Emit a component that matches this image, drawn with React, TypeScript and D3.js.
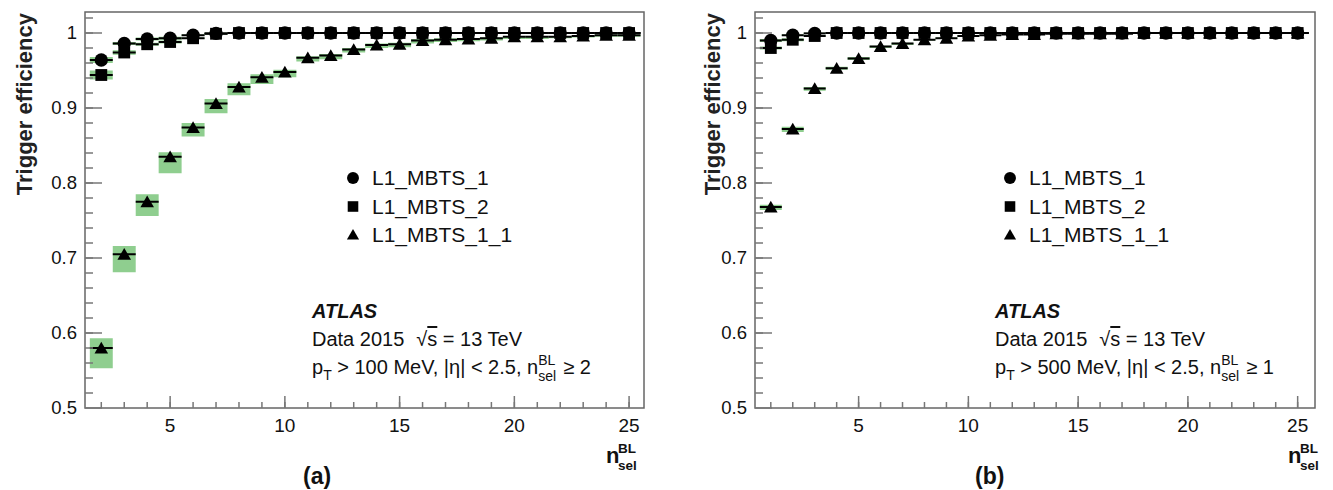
import React from "react";
import * as d3 from "d3";

// ---------------- DATA ----------------
// Panel (a): p_T > 100 MeV, n_sel >= 2
const nselA = [2, 3, 4, 5, 6, 7, 8, 9, 10, 11, 12, 13, 14, 15, 16, 17, 18, 19, 20, 21, 22, 23, 24, 25];
const mbts1A = [0.964, 0.986, 0.992, 0.993, 0.997, 0.9995, 1, 1, 1, 1, 1, 1, 1, 1, 1, 1, 1, 1, 1, 1, 1, 1, 1, 1];
const mbts1ErrA = [0.004, 0.002, 0.002, 0.002, 0.001, 0.001, 0, 0, 0, 0, 0, 0, 0, 0, 0, 0, 0, 0, 0, 0, 0, 0, 0, 0];
const mbts2A = [0.944, 0.974, 0.985, 0.988, 0.993, 0.999, 1, 1, 1, 1, 1, 1, 1, 1, 1, 1, 1, 1, 1, 1, 1, 1, 1, 1];
const mbts2ErrA = [0.006, 0.003, 0.002, 0.002, 0.001, 0.001, 0, 0, 0, 0, 0, 0, 0, 0, 0, 0, 0, 0, 0, 0, 0, 0, 0, 0];
const mbts11A = [0.580, 0.705, 0.775, 0.835, 0.874, 0.906, 0.928, 0.941, 0.948, 0.967, 0.970, 0.978, 0.984, 0.985, 0.990, 0.991, 0.992, 0.993, 0.995, 0.995, 0.995, 0.996, 0.997, 0.997];
const mbts11UpA = [0.013, 0.011, 0.010, 0.006, 0.006, 0.006, 0.005, 0.004, 0.003, 0.002, 0.002, 0.002, 0.002, 0.002, 0.002, 0.002, 0.001, 0.001, 0.001, 0.001, 0.001, 0.001, 0.001, 0.001];
const mbts11DnA = [0.027, 0.024, 0.019, 0.022, 0.012, 0.013, 0.011, 0.009, 0.007, 0.005, 0.005, 0.004, 0.004, 0.004, 0.004, 0.003, 0.003, 0.003, 0.003, 0.003, 0.002, 0.002, 0.002, 0.002];

// Panel (b): p_T > 500 MeV, n_sel >= 1
const nselB = [1, 2, 3, 4, 5, 6, 7, 8, 9, 10, 11, 12, 13, 14, 15, 16, 17, 18, 19, 20, 21, 22, 23, 24, 25];
const mbts1B = [0.990, 0.997, 0.9995, 1, 1, 1, 1, 1, 1, 1, 1, 1, 1, 1, 1, 1, 1, 1, 1, 1, 1, 1, 1, 1, 1];
const mbts1ErrB = [0.002, 0.001, 0.001, 0, 0, 0, 0, 0, 0, 0, 0, 0, 0, 0, 0, 0, 0, 0, 0, 0, 0, 0, 0, 0, 0];
const mbts2B = [0.980, 0.991, 0.996, 1, 1, 1, 1, 1, 1, 1, 1, 1, 1, 1, 1, 1, 1, 1, 1, 1, 1, 1, 1, 1, 1];
const mbts2ErrB = [0.002, 0.002, 0.001, 0, 0, 0, 0, 0, 0, 0, 0, 0, 0, 0, 0, 0, 0, 0, 0, 0, 0, 0, 0, 0, 0];
const mbts11B = [0.768, 0.872, 0.926, 0.953, 0.966, 0.982, 0.986, 0.991, 0.993, 0.996, 0.997, 0.998, 0.998, 0.999, 0.999, 0.999, 0.999, 1, 1, 1, 1, 1, 1, 1, 1];
const mbts11UpB = [0.003, 0.003, 0.002, 0.002, 0.002, 0.001, 0.001, 0.001, 0.001, 0.001, 0, 0, 0, 0, 0, 0, 0, 0, 0, 0, 0, 0, 0, 0, 0];
const mbts11DnB = [0.004, 0.004, 0.003, 0.002, 0.002, 0.002, 0.002, 0.001, 0.001, 0.001, 0.001, 0, 0, 0, 0, 0, 0, 0, 0, 0, 0, 0, 0, 0, 0];

const seriesNames = ["L1_MBTS_1", "L1_MBTS_2", "L1_MBTS_1_1"];
const yMajorTicks = [0.5, 0.6, 0.7, 0.8, 0.9, 1.0];
const yTickLabels = ["0.5", "0.6", "0.7", "0.8", "0.9", "1"];
const xMajorTicks = [5, 10, 15, 20, 25];
const xTickLabels = ["5", "10", "15", "20", "25"];

// ---------------- STYLE ----------------
const FONT = "'Liberation Sans', Arial, Helvetica, sans-serif";
const GREEN = "#8fce8f";
const FRAME = "#666";
const TICK = "#777";

type Series = { values: number[]; up: number[]; dn: number[]; shape: "circle" | "square" | "triangle" };

type PanelCfg = {
  left: number; right: number; top: number; bottom: number;
  xDomain: [number, number];
  x: number[];
  series: Series[];
  label: string;
  ptText: string;
  nText: string;
  titleX: number;
  legendX: number;
  annotX: number;
  xTitleX: number;
  tagX: number;
};

const panels: PanelCfg[] = [
  {
    left: 85, right: 644, top: 12, bottom: 408,
    xDomain: [1.29, 25.65],
    x: nselA,
    series: [
      { values: mbts1A, up: mbts1ErrA, dn: mbts1ErrA, shape: "circle" },
      { values: mbts11A, up: mbts11UpA, dn: mbts11DnA, shape: "triangle" },
      { values: mbts2A, up: mbts2ErrA, dn: mbts2ErrA, shape: "square" },
    ],
    label: "(a)", ptText: "100", nText: "2",
    titleX: 32, legendX: 353, annotX: 312, xTitleX: 606, tagX: 303,
  },
  {
    left: 755, right: 1315, top: 12, bottom: 408,
    xDomain: [0.28, 25.79],
    x: nselB,
    series: [
      { values: mbts1B, up: mbts1ErrB, dn: mbts1ErrB, shape: "circle" },
      { values: mbts11B, up: mbts11UpB, dn: mbts11DnB, shape: "triangle" },
      { values: mbts2B, up: mbts2ErrB, dn: mbts2ErrB, shape: "square" },
    ],
    label: "(b)", ptText: "500", nText: "1",
    titleX: 720, legendX: 1010, annotX: 995, xTitleX: 1288, tagX: 975,
  },
];

function symbolPath(shape: string, scale = 1) {
  if (shape === "circle") return d3.symbol(d3.symbolCircle, 140 * scale)()!;
  if (shape === "square") return d3.symbol(d3.symbolSquare, 140 * scale)()!;
  return d3.symbol(d3.symbolTriangle, 80 * scale)()!;
}

function Panel({ p }: { p: PanelCfg }) {
  const xs = d3.scaleLinear().domain(p.xDomain).range([p.left, p.right]);
  const ys = d3.scaleLinear().domain([0.5, 1.028]).range([p.bottom, p.top]);
  const yMinor = d3.range(0.52, 1.025, 0.02);
  const xMinor = d3.range(Math.ceil(p.xDomain[0]), Math.floor(p.xDomain[1]) + 1);
  const bw = xs(1) - xs(0);
  const legendShapes = ["circle", "square", "triangle"];

  return (
    <g fontFamily={FONT}>
      {/* systematic boxes */}
      {p.series.map((s, si) =>
        s.values.map((v, i) => {
          const yt = ys(Math.min(v + s.up[i], 1.028));
          const yb = ys(v - s.dn[i]);
          return (
            <rect key={`b${si}-${i}`} x={xs(p.x[i]) - bw / 2} width={bw}
              y={yt} height={Math.max(yb - yt, 0)} fill={GREEN} />
          );
        })
      )}
      {/* horizontal bin lines */}
      {p.series.map((s, si) =>
        s.values.map((v, i) => (
          <line key={`l${si}-${i}`} x1={xs(p.x[i]) - bw / 2} x2={xs(p.x[i]) + bw / 2}
            y1={ys(v)} y2={ys(v)} stroke="#000" strokeWidth={2} />
        ))
      )}
      {/* markers */}
      {p.series.map((s, si) =>
        s.values.map((v, i) => (
          <path key={`m${si}-${i}`} d={symbolPath(s.shape)}
            transform={`translate(${xs(p.x[i])},${ys(v) + (s.shape === "triangle" ? 1.5 : 0)})`} fill="#000" />
        ))
      )}
      {/* frame */}
      <rect x={p.left} y={p.top} width={p.right - p.left} height={p.bottom - p.top}
        fill="none" stroke={FRAME} strokeWidth={1.5} />
      {/* y ticks */}
      {yMinor.map((t, i) => (
        <line key={`ym${i}`} x1={p.left} x2={p.left + 8} y1={ys(t)} y2={ys(t)} stroke={TICK} strokeWidth={1.5} />
      ))}
      {yMajorTicks.map((t, i) => (
        <g key={`yM${i}`}>
          <line x1={p.left} x2={p.left + 17} y1={ys(t)} y2={ys(t)} stroke={TICK} strokeWidth={1.5} />
          <text x={p.left - 8} y={ys(t)} dy="0.35em" textAnchor="end" fontSize={18.5} fill="#111">{yTickLabels[i]}</text>
        </g>
      ))}
      {/* x ticks */}
      {xMinor.map((t) => (
        <line key={`xm${t}`} x1={xs(t)} x2={xs(t)} y1={p.bottom} y2={p.bottom - 6} stroke={TICK} strokeWidth={1.5} />
      ))}
      {xMajorTicks.map((t, i) => (
        <g key={`xM${t}`}>
          <line x1={xs(t)} x2={xs(t)} y1={p.bottom} y2={p.bottom - 12} stroke={TICK} strokeWidth={1.5} />
          <text x={xs(t)} y={p.bottom + 24} textAnchor="middle" fontSize={19} fill="#111">{xTickLabels[i]}</text>
        </g>
      ))}
      {/* y title */}
      <text transform={`translate(${p.titleX},${p.top + 1}) rotate(-90)`} textAnchor="end"
        fontSize={22} fontWeight="bold" fill="#222">Trigger efficiency</text>
      {/* x title */}
      <text x={p.xTitleX} y={463} fontSize={22} fontWeight="bold" fill="#111">n</text>
      <text x={p.xTitleX + 12} y={453} fontSize={13.5} fontWeight="bold" fill="#111">BL</text>
      <text x={p.xTitleX + 12} y={470} fontSize={13.5} fontWeight="bold" fill="#111">sel</text>
      {/* panel tag */}
      <text x={p.tagX} y={484} fontSize={23} fontWeight="bold" fill="#111">{p.label}</text>
      {/* legend */}
      {seriesNames.map((name, i) => (
        <g key={`lg${i}`}>
          <path d={symbolPath(legendShapes[i], 0.8)}
            transform={`translate(${p.legendX},${178 + i * 28.5 + (legendShapes[i] === "triangle" ? 1 : 0)})`} fill="#000" />
          <text x={p.legendX + 19} y={178 + i * 28.5} dy="0.35em" fontSize={21} fill="#111">{name}</text>
        </g>
      ))}
      {/* annotation */}
      <text x={p.annotX} y={318} fontSize={20} fontWeight="bold" fontStyle="italic" fill="#111">ATLAS</text>
      <text x={p.annotX} y={346} fontSize={20} fill="#111">
        Data 2015<tspan dx={12}>√</tspan><tspan style={{ textDecoration: "overline" }}>s</tspan> = 13 TeV
      </text>
      <text x={p.annotX} y={374} fontSize={20} fill="#111">
        p<tspan fontSize={14} dy={6}>T</tspan>
        <tspan dy={-6}>{` > ${p.ptText} MeV, |η| < 2.5, n`}</tspan>
        <tspan fontSize={14} dy={-9}>BL</tspan>
        <tspan fontSize={14} dx={-17} dy={16}>sel</tspan>
        <tspan dx={7} dy={-7}>{`≥ ${p.nText}`}</tspan>
      </text>
    </g>
  );
}

export default function App() {
  return (
    <svg width={1333} height={490} style={{ position: "absolute", left: 0, top: 0, background: "#fff" }}>
      <rect width={1333} height={490} fill="#fff" />
      {panels.map((p, i) => (
        <Panel key={i} p={p} />
      ))}
    </svg>
  );
}
